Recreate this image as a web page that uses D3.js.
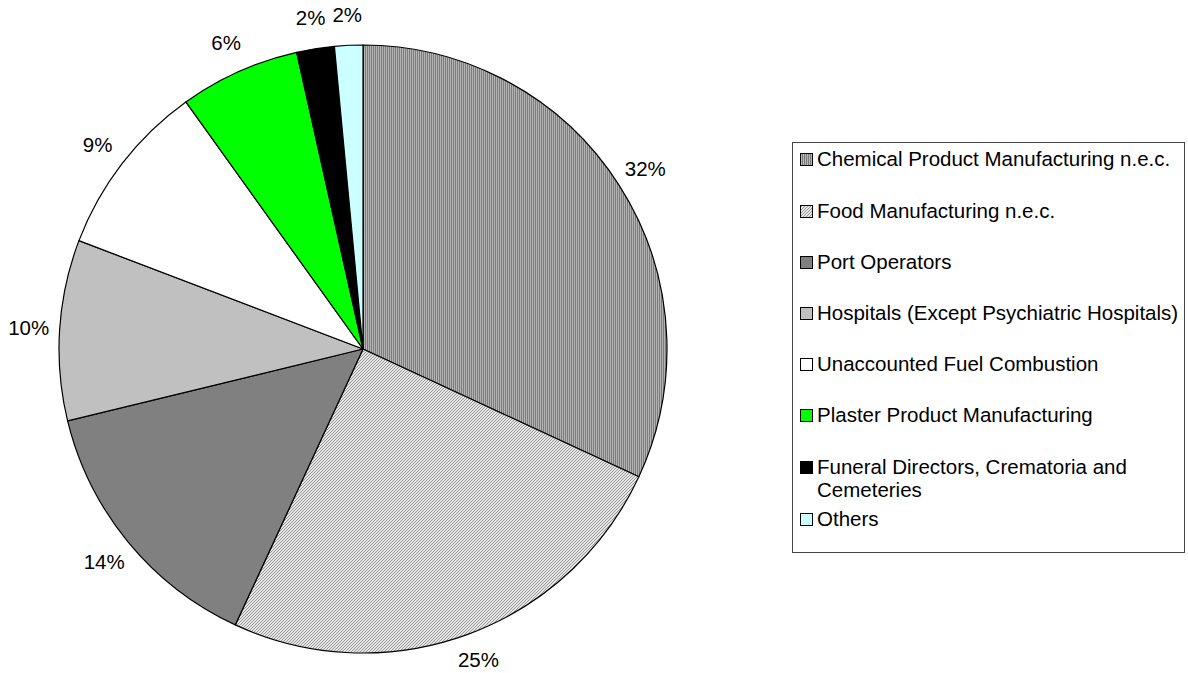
<!DOCTYPE html>
<html lang="en">
  <head>
    <meta charset="utf-8">
    <title>Pie chart</title>
    <style>
      body { margin: 0; background: #fff; }
      svg { display: block; font-family: "Liberation Sans", Arial, sans-serif; }
    </style>
  </head>
  <body>
    <svg width="1188" height="673"></svg>

    <script src="https://d3js.org/d3.v7.min.js"></script>
    <script>

    // data (percent shares, clockwise from 12 o'clock)
    var categories = [
      "Chemical Product Manufacturing n.e.c.",
      "Food Manufacturing n.e.c.",
      "Port Operators",
      "Hospitals (Except Psychiatric Hospitals)",
      "Unaccounted Fuel Combustion",
      "Plaster Product Manufacturing",
      "Funeral Directors, Crematoria and Cemeteries",
      "Others"
    ];
    var values = [31.9, 25.0, 14.3, 9.6, 9.3, 6.4, 2.0, 1.5];
    var labels = ["32%", "25%", "14%", "10%", "9%", "6%", "2%", "2%"];
    // legend text is wrapped like the original
    var legendLines = [
      ["Chemical Product Manufacturing n.e.c."],
      ["Food Manufacturing n.e.c."],
      ["Port Operators"],
      ["Hospitals (Except Psychiatric Hospitals)"],
      ["Unaccounted Fuel Combustion"],
      ["Plaster Product Manufacturing"],
      ["Funeral Directors, Crematoria and", "Cemeteries"],
      ["Others"]
    ];

    var svg = d3.select("svg"),
        width = +svg.attr("width"),
        height = +svg.attr("height");
    var defs = svg.append("defs");

    // vertical stripes
    var p1 = defs.append("pattern").attr("id", "stripes")
        .attr("patternUnits", "userSpaceOnUse").attr("width", 2).attr("height", 2);
    p1.append("rect").attr("width", 2).attr("height", 2).attr("fill", "#b4b4b4");
    p1.append("rect").attr("width", 1).attr("height", 2).attr("fill", "#7c7c7c");

    // fine diagonal hatch
    var p2 = defs.append("pattern").attr("id", "hatch")
        .attr("patternUnits", "userSpaceOnUse").attr("width", 3).attr("height", 3);
    p2.append("rect").attr("width", 3).attr("height", 3).attr("fill", "#e6e6e6");
    [[0, 2], [1, 1], [2, 0]].forEach(function(p) {
      p2.append("rect").attr("x", p[0]).attr("y", p[1])
        .attr("width", 1).attr("height", 1).attr("fill", "#979797");
    });

    var fills = ["url(#stripes)", "url(#hatch)", "#808080", "#c0c0c0",
                 "#ffffff", "#00ff00", "#000000", "#ccffff"];

    var cx = 363, cy = 349, radius = 304;

    var pie = d3.pie().sort(null).value(function(d) { return d; });
    var arc = d3.arc().innerRadius(0).outerRadius(radius);
    var labelArc = d3.arc().innerRadius(335).outerRadius(335);

    var arcs = pie(values);
    var g = svg.append("g").attr("transform", "translate(" + cx + "," + cy + ")");

    g.selectAll("path.slice")
        .data(arcs)
      .enter().append("path")
        .attr("class", "slice")
        .attr("d", arc)
        .attr("fill", function(d, i) { return fills[i]; })
        .attr("stroke", "#000")
        .attr("stroke-width", 1.2)
        .attr("stroke-linejoin", "round");

    // labels sit outside the pie, kept inside the picture like the original
    g.selectAll("text.lbl")
        .data(arcs)
      .enter().append("text")
        .attr("class", "lbl")
        .attr("transform", function(d) {
          var c = labelArc.centroid(d);
          var y = Math.min(c[1], height - cy - 13);
          return "translate(" + c[0] + "," + y + ")";
        })
        .attr("text-anchor", "middle")
        .attr("dy", "0.35em")
        .style("font-size", "20.5px")
        .attr("fill", "#000")
        .text(function(d, i) { return labels[i]; });

    // legend
    var lx = 792, ly = 142, lw = 392, lh = 410;
    var legend = svg.append("g");
    legend.append("rect")
        .attr("x", lx + 0.5).attr("y", ly + 0.5)
        .attr("width", lw).attr("height", lh)
        .attr("fill", "#fff").attr("stroke", "#444").attr("stroke-width", 1);

    var rowY = [159, 211, 262, 313, 364, 415, 467, 519];

    var item = legend.selectAll("g.item")
        .data(categories)
      .enter().append("g")
        .attr("class", "item")
        .attr("transform", function(d, i) { return "translate(" + (lx + 8) + "," + rowY[i] + ")"; });

    item.append("rect")
        .attr("x", 0.5).attr("y", -5.5)
        .attr("width", 12).attr("height", 12)
        .attr("fill", function(d, i) { return fills[i]; })
        .attr("stroke", "#000").attr("stroke-width", 1);

    item.append("text")
        .style("font-size", "20.5px")
        .attr("fill", "#000")
        .selectAll("tspan")
        .data(function(d, i) { return legendLines[i]; })
      .enter().append("tspan")
        .attr("x", 17)
        .attr("y", function(d, j) { return j * 23; })
        .attr("dy", "0.35em")
        .text(function(d) { return d; });

    </script>
  </body>
</html>
